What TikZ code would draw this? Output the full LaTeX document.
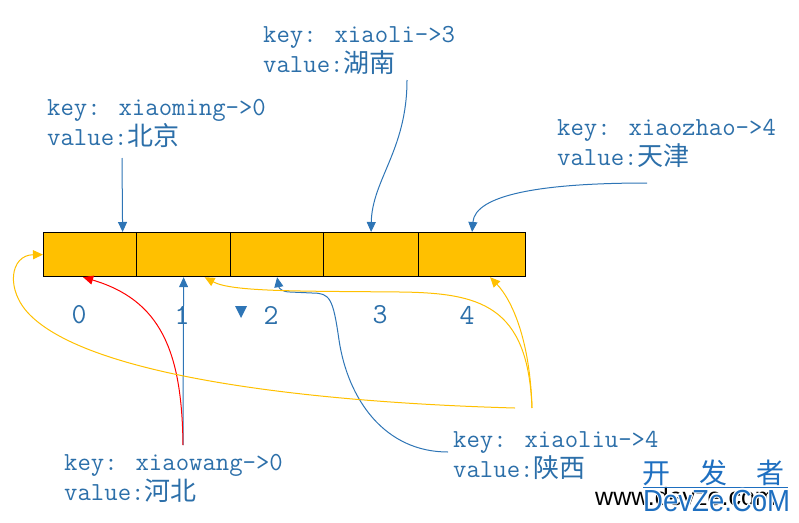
\documentclass[tikz,border=0pt]{standalone}
\usepackage{fontspec}
\newfontfamily\cjk{Noto Sans CJK SC}
\newfontfamily\wmfont{Liberation Sans}
\usetikzlibrary{arrows.meta}
\definecolor{cellfill}{HTML}{FFC000}
\definecolor{keyblue}{HTML}{2E75B6}
\definecolor{txtblue}{HTML}{2C6FA9}
\definecolor{hitred}{HTML}{FF0000}
\definecolor{wmblue}{HTML}{1E6FC0}

\begin{document}
\begin{tikzpicture}[x=1pt,y=-1pt,
  lbl/.style={anchor=base west,inner sep=0pt,align=left,text=txtblue,
    font=\ttfamily\fontsize{26}{30}\selectfont},
  idx/.style={inner sep=0pt,text=txtblue,font=\ttfamily\fontsize{29}{30}\selectfont},
  cell/.style={draw=black,fill=cellfill,line width=1.2pt,inner sep=0pt,
    minimum height=44pt,anchor=north west},
  tip/.style={-{Triangle[length=10pt,width=9pt]}},
  bl/.style={keyblue,line width=1pt,tip},
  yl/.style={cellfill,line width=1pt,tip},
  rd/.style={hitred,line width=1pt,tip},
  wmen/.style={anchor=base west,inner sep=0pt,xscale=0.95,yscale=1.05,transform shape,
    font=\wmfont\fontsize{29}{29}\selectfont}]
  \useasboundingbox (0,0) rectangle (799,522);

  % the table
  \foreach \i/\l/\w in {0/43/93,1/136/94,2/230/93,3/323/95,4/418/107}
    \node[cell,minimum width=\w pt] (c\i) at (\l,232) {};
  \foreach \i/\x in {0/79,1/182,2/271,3/380,4/467}
    \node[idx] (n\i) at (\x,315) {\i};
  \fill[keyblue] (235,306) -- (247,306) -- (241,318) -- cycle;

  % entries (placed at the baseline of the value line)
  \node[lbl] (lbming) at (47,145) {key: xiaoming->0\\value:{\cjk 北京}};
  \node[lbl] (lbli)   at (263,72) {key: xiaoli->3\\value:{\cjk 湖南}};
  \node[lbl] (lbzhao) at (557,165) {key: xiaozhao->4\\value:{\cjk 天津}};
  \node[lbl] (lbwang) at (64,500) {key: xiaowang->0\\value:{\cjk 河北}};
  \node[lbl] (lbliu)  at (453,477) {key: xiaoliu->4\\value:{\cjk 陕西}};

  \coordinate (ming) at (122,158);
  \coordinate (li)   at (407,80);
  \coordinate (zhao) at (647,183);
  \coordinate (wang) at (183,445);
  \coordinate (liu)  at (448,452);
  \coordinate (liuA) at (532,408);
  \coordinate (liuB) at (515,408);

  \draw[bl] (ming) -- ([xshift=32.5pt]c0.north);
  \draw[bl] (li) .. controls (407,150) and (372,180) .. (c3.north);
  \draw[bl] (zhao) .. controls (540,183) and (475,195) .. (c4.north);
  \draw[bl] (wang) -- (c1.south);
  \draw[rd] (wang) .. controls (182,350) and (160,300) .. ([xshift=-7pt]c0.south);
  \draw[bl] (liu) .. controls (385,452) and (348,400) .. (339,340)
    .. controls (333,298) and (330,293) .. (312,293) -- (290,292)
    .. controls (282,292) and (279,288) .. (c2.south);
  \draw[yl] (liuA) .. controls (530,340) and (512,300) .. ([xshift=18pt]c4.south);
  \draw[yl] (liuA) .. controls (528,305) and (480,293) .. (400,292)
    .. controls (300,291) and (232,292) .. ([xshift=21pt]c1.south);
  \draw[yl] (liuB) .. controls (300,402) and (90,375) .. (30,315)
    .. controls (5,290) and (10,255) .. (c0.west);

  % watermark
  \node[anchor=base west,inner sep=0pt,text=black,font=\wmfont\fontsize{25}{25}\selectfont]
    (wmurl) at (595,505) {www.devze.com};
  \node[anchor=base west,inner sep=0pt,text=wmblue,font=\cjk\fontsize{28}{28}\selectfont]
    (wmcn) at (642,483) {开\hspace{29pt}发\hspace{29pt}者};
  \draw[wmblue,line width=0.8pt] (643,487) -- (788,487);
  \foreach \dx/\dy in {-1.2/0,1.2/0,0/-1.2,0/1.2,-0.9/-0.9,0.9/0.9,-0.9/0.9,0.9/-0.9}
    \node[wmen,text=white] at (643+\dx,511+\dy) {DevZe.CoM};
  \node[wmen,text=wmblue] (wmdz) at (643,511) {DevZe.CoM};
\end{tikzpicture}
\end{document}
